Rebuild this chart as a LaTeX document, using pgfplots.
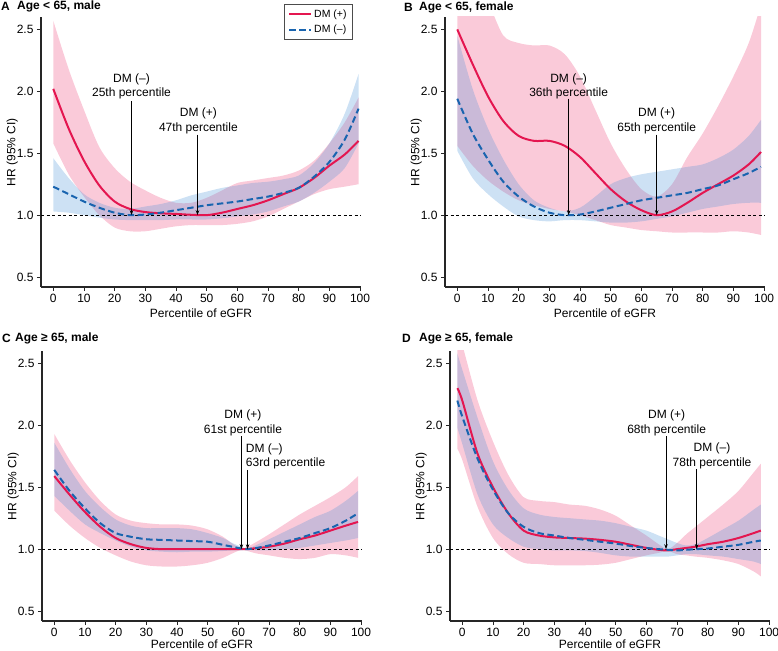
\documentclass[border=0pt]{standalone}
\usepackage{fontspec}
\setmainfont{Liberation Sans}
\usepackage{pgfplots}
\usepackage{pgfplotstable}
\pgfplotsset{compat=1.18}
\usepgfplotslibrary{fillbetween}
\usetikzlibrary{arrows.meta}
\definecolor{redl}{RGB}{228,22,80}
\definecolor{bluel}{RGB}{25,100,175}
\definecolor{pinkf}{RGB}{240,80,130}
\definecolor{bluef}{RGB}{70,145,215}
\newcommand{\fs}{\fontsize{12bp}{14.5bp}\selectfont}

\pgfplotstableread{
x rm rlo rhi bm blo bhi
0 2.02 1.58 2.57 1.23 1.03 1.46
5 1.70 1.33 2.18 1.17 1.02 1.30
10 1.44 1.15 1.85 1.11 1.00 1.17
15 1.24 1.00 1.55 1.06 0.98 1.10
20 1.11 0.90 1.38 1.02 0.965 1.06
25 1.05 0.87 1.27 1.00 0.96 1.05
30 1.025 0.87 1.20 1.005 0.96 1.07
35 1.015 0.89 1.14 1.02 0.96 1.09
40 1.01 0.91 1.10 1.04 0.965 1.12
45 1.003 0.92 1.10 1.06 0.965 1.16
50 1.00 0.92 1.14 1.08 0.965 1.19
55 1.02 0.92 1.20 1.095 0.975 1.22
60 1.05 0.93 1.26 1.11 0.99 1.24
65 1.08 0.95 1.28 1.13 1.005 1.26
70 1.12 0.99 1.30 1.15 1.03 1.27
75 1.17 1.05 1.32 1.18 1.07 1.29
80 1.22 1.11 1.36 1.22 1.11 1.32
85 1.30 1.17 1.44 1.31 1.18 1.42
90 1.40 1.21 1.58 1.43 1.27 1.58
95 1.49 1.23 1.75 1.61 1.38 1.82
99.5 1.60 1.25 1.95 1.86 1.58 2.14
}\dataA

\pgfplotstableread{
x rm rlo rhi bm blo bhi
0 2.50 1.56 2.90 1.94 1.52 2.45
5 2.22 1.40 2.90 1.66 1.30 2.02
10 1.96 1.28 2.72 1.45 1.17 1.70
15 1.76 1.19 2.45 1.27 1.07 1.45
20 1.64 1.12 2.39 1.15 0.99 1.25
25 1.60 1.08 2.37 1.07 0.96 1.12
30 1.60 1.05 2.37 1.02 0.95 1.06
35 1.56 1.03 2.30 1.00 0.96 1.03
40 1.47 1.00 2.12 1.005 0.96 1.06
45 1.34 0.96 1.85 1.03 0.95 1.15
50 1.21 0.92 1.58 1.06 0.94 1.25
55 1.11 0.90 1.37 1.09 0.94 1.30
60 1.04 0.88 1.21 1.12 0.95 1.33
65 1.00 0.87 1.15 1.14 0.97 1.35
70 1.03 0.86 1.25 1.16 0.99 1.37
75 1.10 0.86 1.47 1.18 1.02 1.39
80 1.18 0.86 1.66 1.21 1.05 1.41
85 1.25 0.86 1.88 1.24 1.07 1.46
90 1.32 0.87 2.12 1.29 1.09 1.53
95 1.41 0.86 2.39 1.34 1.10 1.64
99 1.51 0.84 2.70 1.39 1.10 1.77
}\dataB

\pgfplotstableread{
x rm rlo rhi bm blo bhi
0 1.59 1.31 1.93 1.64 1.43 1.86
5 1.44 1.19 1.72 1.47 1.31 1.65
10 1.30 1.09 1.54 1.33 1.20 1.47
15 1.18 1.01 1.39 1.21 1.13 1.34
20 1.09 0.95 1.28 1.13 1.07 1.24
25 1.04 0.90 1.23 1.10 1.02 1.19
30 1.01 0.87 1.21 1.08 0.99 1.17
35 1.00 0.86 1.20 1.075 0.98 1.17
40 1.00 0.86 1.20 1.07 0.975 1.17
45 1.00 0.87 1.19 1.065 0.98 1.16
50 1.00 0.89 1.16 1.06 0.98 1.13
55 1.00 0.93 1.10 1.035 0.985 1.09
58 1.00 0.965 1.045 1.02 0.99 1.05
61 1.00 0.995 1.005 1.005 0.99 1.02
63 1.002 0.985 1.02 1.00 0.995 1.005
66 1.008 0.965 1.06 1.01 0.99 1.035
70 1.02 0.95 1.12 1.03 0.99 1.08
75 1.045 0.93 1.20 1.06 1.00 1.14
80 1.08 0.92 1.28 1.09 1.01 1.20
85 1.11 0.93 1.35 1.13 1.03 1.26
90 1.15 0.96 1.42 1.17 1.05 1.31
95 1.19 0.95 1.50 1.23 1.07 1.39
99 1.22 0.93 1.59 1.29 1.09 1.47
}\dataC

\pgfplotstableread{
x rm rlo rhi bm blo bhi
-1.6 2.30 1.81 2.75 2.20 1.98 2.58
0 2.20 1.72 2.65 2.07 1.85 2.45
5 1.77 1.34 2.20 1.73 1.44 2.06
10 1.50 1.09 1.87 1.48 1.20 1.71
15 1.29 0.96 1.60 1.29 1.09 1.48
20 1.15 0.89 1.42 1.18 1.02 1.33
25 1.11 0.88 1.39 1.13 1.00 1.28
30 1.095 0.87 1.38 1.11 0.99 1.26
35 1.09 0.87 1.36 1.09 0.99 1.25
40 1.085 0.87 1.35 1.075 0.985 1.24
45 1.075 0.875 1.32 1.06 0.97 1.23
50 1.06 0.89 1.27 1.045 0.95 1.21
55 1.035 0.92 1.19 1.025 0.94 1.18
60 1.01 0.95 1.11 1.01 0.94 1.15
64 0.995 0.97 1.04 1.00 0.94 1.11
67 0.99 0.985 1.00 0.995 0.94 1.08
70 1.00 0.96 1.05 0.99 0.95 1.05
73 1.01 0.95 1.12 0.995 0.96 1.03
76 1.02 0.94 1.18 1.00 0.96 1.04
80 1.04 0.93 1.26 1.005 0.95 1.09
85 1.06 0.91 1.36 1.02 0.94 1.16
90 1.09 0.88 1.47 1.035 0.92 1.23
95 1.13 0.82 1.62 1.06 0.90 1.32
97.3 1.15 0.78 1.69 1.07 0.88 1.36
}\dataD

\pgfplotsset{
  panel/.style={
    scale only axis, width=320bp, height=270bp,
    xmin=-4, xmax=100.3, ymin=0.42, ymax=2.6,
    axis x line*=bottom, axis y line*=left,
    x axis line style={-}, y axis line style={-},
    axis line style={line width=1.1bp, black!85},
    xtick={0,10,...,100}, ytick={0.5,1.0,1.5,2.0,2.5},
    tick align=outside, major tick length=4bp,
    tick style={line width=0.9bp, black!85},
    yticklabel style={/pgf/number format/.cd, fixed, fixed zerofill, precision=1},
    /pgf/number format/assume math mode=true,
    ticklabel style={font=\fs},
    xlabel={Percentile of eGFR}, ylabel={HR (95\% CI)},
    label style={font=\fs},
    xlabel style={at={(axis description cs:0.5,-0.096)}, anchor=center},
    ylabel style={at={(axis description cs:-0.09,0.5)}, anchor=center},
  },
  lowpanel/.style={xlabel style={at={(axis description cs:0.5,-0.087)}}},
  band/.style={draw=none, smooth, forget plot},
  legimg/.style={legend image code/.code={\draw[##1] (0bp,0bp) -- (22bp,0bp);}},
  redline/.style={redl, line width=2bp, smooth},
  blueline/.style={bluel, line width=2bp, smooth, dash pattern=on 6.5bp off 3.5bp},
}
\tikzset{
  ann/.style={font=\fs, align=center, inner sep=0pt},
  arr/.style={-{Stealth[length=5bp,width=3.5bp]}, line width=0.8bp, black},
}

\newcommand{\bands}[1]{%
  \addplot[band, name path=rh] table[x=x,y=rhi]{#1};
  \addplot[band, name path=rl] table[x=x,y=rlo]{#1};
  \addplot[fill=pinkf, fill opacity=0.3, draw=none, forget plot] fill between[of=rh and rl];
  \addplot[band, name path=bh] table[x=x,y=bhi]{#1};
  \addplot[band, name path=bl] table[x=x,y=blo]{#1};
  \addplot[fill=bluef, fill opacity=0.27, draw=none, forget plot] fill between[of=bh and bl];
  \addplot[black, line width=0.6bp, dash pattern=on 3bp off 2.5bp, forget plot] coordinates {(-4,1) (100.3,1)};
}

\begin{document}
\begin{tikzpicture}

% Panel A
\begin{axis}[panel, at={(41bp,364bp)}, anchor=south west,
  legend style={at={(0.975,1.048)}, anchor=north east, draw=black!70, line width=0.8bp,
    font=\fontsize{10.5bp}{12bp}\selectfont, inner xsep=4bp, inner ysep=3bp, row sep=2.5bp},
  legend cell align=left, legimg]
\bands{\dataA}
\addplot[redline] table[x=x,y=rm]{\dataA};
\addlegendentry{DM (+)}
\addplot[blueline] table[x=x,y=bm]{\dataA};
\addlegendentry{DM (–)}
\node[ann] at (axis cs:25.5,2.04) {DM (–)\\25th percentile};
\draw[arr] (axis cs:25.5,1.92) -- (axis cs:25.5,1.0);
\node[ann] at (axis cs:47.3,1.76) {DM (+)\\47th percentile};
\draw[arr] (axis cs:47,1.65) -- (axis cs:47,1.0);
\end{axis}

% Panel B
\begin{axis}[panel, at={(445bp,364bp)}, anchor=south west]
\bands{\dataB}
\addplot[redline] table[x=x,y=rm]{\dataB};
\addplot[blueline] table[x=x,y=bm]{\dataB};
\node[ann] at (axis cs:36.3,2.04) {DM (–)\\36th percentile};
\draw[arr] (axis cs:36.3,1.94) -- (axis cs:36.3,1.0);
\node[ann] at (axis cs:65,1.76) {DM (+)\\65th percentile};
\draw[arr] (axis cs:65,1.65) -- (axis cs:65,1.0);
\end{axis}

% Panel C
\begin{axis}[panel, lowpanel, at={(42bp,30bp)}, anchor=south west]
\bands{\dataC}
\addplot[redline] table[x=x,y=rm]{\dataC};
\addplot[blueline] table[x=x,y=bm]{\dataC};
\node[ann] at (axis cs:61.5,2.02) {DM (+)\\61st percentile};
\draw[arr] (axis cs:61,1.91) -- (axis cs:61,1.0);
\node[ann, anchor=west, align=left] at (axis cs:62.4,1.75) {DM (–)\\63rd percentile};
\draw[arr] (axis cs:63,1.64) -- (axis cs:63,1.0);
\end{axis}

% Panel D
\begin{axis}[panel, lowpanel, at={(450bp,30bp)}, anchor=south west]
\bands{\dataD}
\addplot[redline] table[x=x,y=rm]{\dataD};
\addplot[blueline] table[x=x,y=bm]{\dataD};
\node[ann] at (axis cs:66.6,2.02) {DM (+)\\68th percentile};
\draw[arr] (axis cs:66.4,1.91) -- (axis cs:66.4,1.0);
\node[ann] at (axis cs:81.4,1.755) {DM (–)\\78th percentile};
\draw[arr] (axis cs:76.4,1.645) -- (axis cs:76.4,1.0);
\end{axis}

% Panel titles
\node[anchor=west, inner sep=0pt, font=\fs\bfseries] at (1bp,645bp) {A};
\node[anchor=west, inner sep=0pt, font=\fs\bfseries] at (17bp,645bp) {Age < 65, male};
\node[anchor=west, inner sep=0pt, font=\fs\bfseries] at (404bp,644bp) {B};
\node[anchor=west, inner sep=0pt, font=\fs\bfseries] at (419bp,644bp) {Age < 65, female};
\node[anchor=west, inner sep=0pt, font=\fs\bfseries] at (2bp,313bp) {C};
\node[anchor=west, inner sep=0pt, font=\fs\bfseries] at (15bp,313bp) {Age ≥ 65, male};
\node[anchor=west, inner sep=0pt, font=\fs\bfseries] at (402bp,313bp) {D};
\node[anchor=west, inner sep=0pt, font=\fs\bfseries] at (419bp,313bp) {Age ≥ 65, female};
\pgfresetboundingbox
\path[use as bounding box] (0,0) rectangle (778bp,651bp);
\end{tikzpicture}
\end{document}
